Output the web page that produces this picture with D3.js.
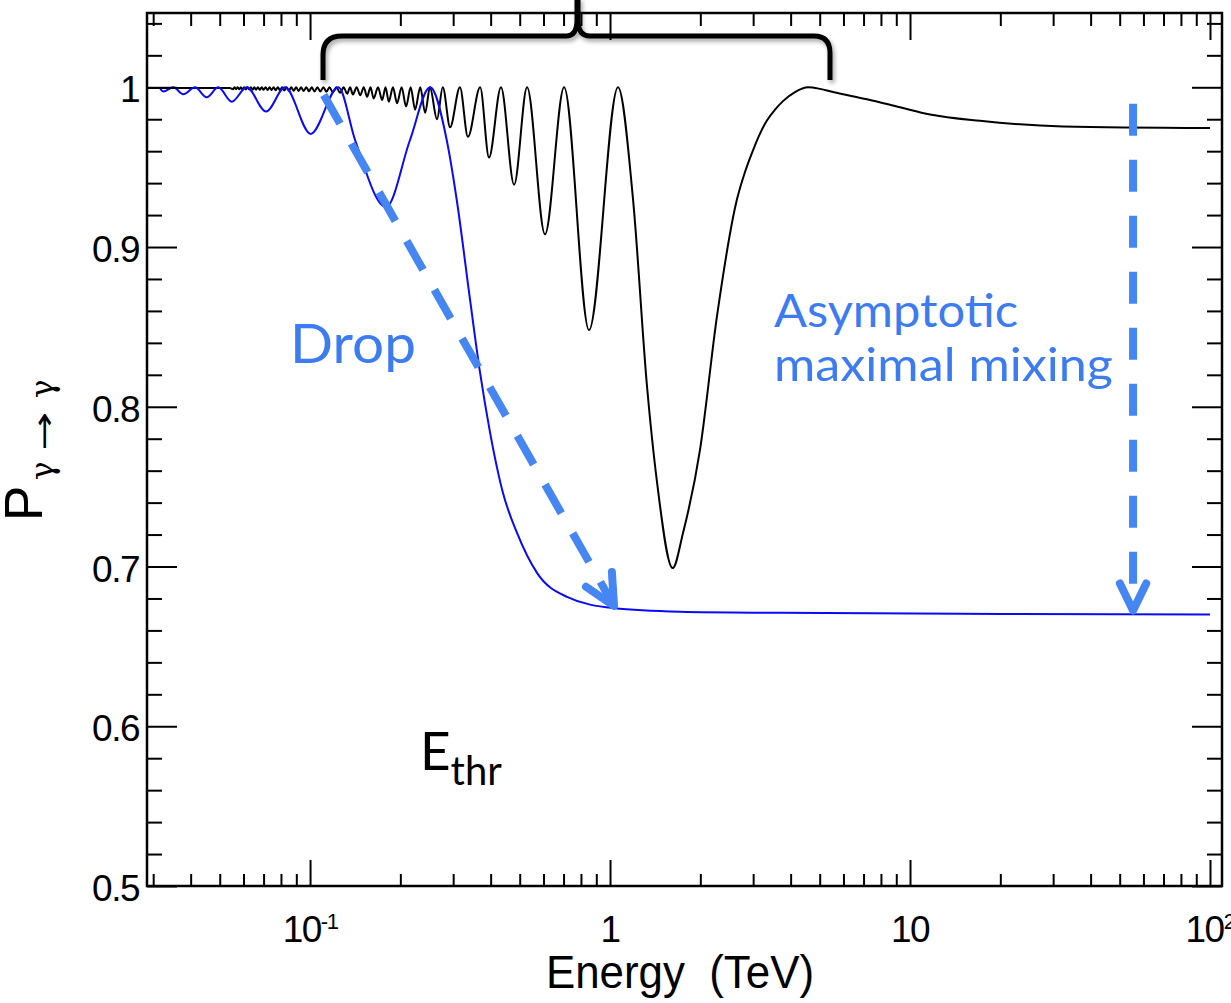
<!DOCTYPE html>
<html><head><meta charset="utf-8">
<script src="https://cdn.jsdelivr.net/npm/d3@7"></script>
<style>
html,body{margin:0;padding:0;background:#fff;}
svg{display:block;}
</style></head><body>
<svg id="chart" width="1231" height="1003"></svg>
<script>
// ---------------- data ----------------
const xMajorTicks = [0.1, 1, 10, 100];
const xMajorBase  = ["10", "1", "10", "10"];
const xMajorExp   = ["-1", "", "", "2"];
const xMinorTicks = [0.03,0.04,0.05,0.06,0.07,0.08,0.09,
                     0.2,0.3,0.4,0.5,0.6,0.7,0.8,0.9,
                     2,3,4,5,6,7,8,9,
                     20,30,40,50,60,70,80,90];
const yMajorTicks  = [0.5, 0.6, 0.7, 0.8, 0.9, 1.0];
const yMajorLabels = ["0.5", "0.6", "0.7", "0.8", "0.9", "1"];
const yMinorTicks  = [0.52,0.54,0.56,0.58,0.62,0.64,0.66,0.68,0.72,0.74,0.76,0.78,
                      0.82,0.84,0.86,0.88,0.92,0.94,0.96,0.98,1.02,1.04];

// black curve: flat start, oscillation minima (each followed by a maximum at P=1), then tail
const blackStartE = [0.0286, 0.0540];
const blackStartP = [0.9995, 0.9995];
const blackMinE = [0.0554,0.0567,0.0581,0.0595,0.0611,0.0627,0.0644,0.0661,0.0680,0.0700,
                   0.0722,0.0744,0.0768,0.0794,0.0821,0.0850,0.0882,0.0916,0.0952,0.0992,
                   0.1035,0.1082,0.1134,0.1190,0.1260,0.1330,0.1390,0.1470,0.1550,0.1630,
                   0.1740,0.1830,0.1950,0.2090,0.2240,0.2420,0.2650,0.2930,0.3360,0.3950,
                   0.4790,0.6070,0.8510];
const blackMinP = [0.9988,0.9988,0.9987,0.9987,0.9986,0.9986,0.9985,0.9985,0.9984,0.9984,
                   0.9983,0.9983,0.9982,0.9981,0.9980,0.9979,0.9978,0.9977,0.9976,0.9975,
                   0.9974,0.9973,0.9972,0.9970,0.9965,0.9960,0.9955,0.9950,0.9940,0.9930,
                   0.9920,0.9910,0.9900,0.9880,0.9860,0.9840,0.9800,0.9750,0.9690,0.9560,
                   0.9390,0.9080,0.8480];
const blackPeakE = [0.0560,0.0574,0.0588,0.0603,0.0619,0.0635,0.0652,0.0670,0.0690,0.0711,
                    0.0733,0.0756,0.0781,0.0807,0.0835,0.0866,0.0899,0.0934,0.0972,0.1013,
                    0.1058,0.1108,0.1161,0.1224,0.1294,0.1360,0.1430,0.1510,0.1590,0.1685,
                    0.1785,0.1890,0.2020,0.2165,0.2330,0.2510,0.2770,0.3160,0.3690,0.4330,
                    0.5290,0.7030,1.0630];
const blackPeakP = 1.0;
const blackTailE = [1.193,1.328,1.434,1.618,1.751,1.995,2.274,2.651,2.818,3.003,3.162,3.330,
                    3.548,3.780,4.137,4.571,5.012,5.538,7.19,9.26,11.66,17.11,32.36,100];
const blackTailP = [0.930,0.813,0.753,0.699,0.721,0.773,0.857,0.930,0.947,0.961,0.971,0.979,
                    0.986,0.9915,0.997,1.000,0.999,0.997,0.9925,0.9875,0.983,0.979,0.9755,0.9745];

// blue curve
const blueEnergy = [0.03162,0.03243,0.03501,0.03781,0.04136,0.04524,0.04945,0.05483,0.06152,
                    0.07135,0.08254,0.1005,0.1243,0.1413,0.1792,0.2154,0.2512,0.2855,0.3083,
                    0.3415,0.3690,0.3981,0.4398,0.4898,0.5710,0.7187,1.0233,1.7113,3.6869,19.95,100];
const blueProb   = [0.9994,0.9973,1.0,0.9956,1.0,0.9937,1.0,0.991,1.0,
                    0.9848,1.0,0.9708,1.0,0.967,0.925,0.967,1.0,0.967,0.9296,
                    0.867,0.821,0.784,0.746,0.721,0.696,0.681,0.674,0.6717,0.671,0.6703,0.670];

// annotation arrows (energy, probability)
const dropArrow = [[0.1111, 0.9952], [1.0312, 0.6753]];
const asymArrow = [[55.4, 0.9897], [55.4, 0.6725]];

// ---------------- layout ----------------
const svg = d3.select("#chart");
const L = 147, R = 1222, T = 13, B = 886;
const x = d3.scaleLog().domain([0.02861, 109.65]).range([L, R]);
const y = d3.scaleLinear().domain([0.5, 1.0465]).range([B, T]);

const defs = svg.append("defs");
defs.append("clipPath").attr("id", "clip").append("rect")
  .attr("x", L).attr("y", T).attr("width", R - L).attr("height", B - T);
const f = defs.append("filter").attr("id", "shadow").attr("x", "-10%").attr("y", "-50%").attr("width", "120%").attr("height", "200%");
f.append("feDropShadow").attr("dx", 2).attr("dy", 3).attr("stdDeviation", 2)
  .attr("flood-color", "#000").attr("flood-opacity", 0.35);

// ---------------- curves ----------------
const blackPts = [];
blackStartE.forEach((e, i) => blackPts.push([e, blackStartP[i]]));
blackMinE.forEach((e, i) => { blackPts.push([e, blackMinP[i]]); blackPts.push([blackPeakE[i], blackPeakP]); });
blackTailE.forEach((e, i) => blackPts.push([e, blackTailP[i]]));
const bluePts = blueEnergy.map((e, i) => [e, blueProb[i]]);

const line = d3.line().x(d => x(d[0])).y(d => y(d[1])).curve(d3.curveMonotoneX);
const plot = svg.append("g").attr("clip-path", "url(#clip)");
plot.append("path").datum(blackPts).attr("d", line)
  .attr("fill", "none").attr("stroke", "#000").attr("stroke-width", 2);
plot.append("path").datum(bluePts).attr("d", line)
  .attr("fill", "none").attr("stroke", "#0a0af5").attr("stroke-width", 2);

// ---------------- axes / frame ----------------
function styleAxis(g) {
  g.select(".domain").remove();
  g.selectAll(".tick line").attr("stroke", "#000").attr("stroke-width", 2);
}
svg.append("g").attr("transform", `translate(0,${B})`)
  .call(d3.axisTop(x).tickValues(xMajorTicks).tickSize(26).tickFormat("")).call(styleAxis);
svg.append("g").attr("transform", `translate(0,${B})`)
  .call(d3.axisTop(x).tickValues(xMinorTicks).tickSize(12).tickFormat("")).call(styleAxis);
svg.append("g").attr("transform", `translate(0,${T})`)
  .call(d3.axisBottom(x).tickValues(xMajorTicks).tickSize(27).tickFormat("")).call(styleAxis);
svg.append("g").attr("transform", `translate(0,${T})`)
  .call(d3.axisBottom(x).tickValues(xMinorTicks).tickSize(13).tickFormat("")).call(styleAxis);
svg.append("g").attr("transform", `translate(${L},0)`)
  .call(d3.axisRight(y).tickValues(yMajorTicks).tickSize(30).tickFormat("")).call(styleAxis);
svg.append("g").attr("transform", `translate(${L},0)`)
  .call(d3.axisRight(y).tickValues(yMinorTicks).tickSize(15).tickFormat("")).call(styleAxis);
svg.append("g").attr("transform", `translate(${R},0)`)
  .call(d3.axisLeft(y).tickValues(yMajorTicks).tickSize(30).tickFormat("")).call(styleAxis);
svg.append("g").attr("transform", `translate(${R},0)`)
  .call(d3.axisLeft(y).tickValues(yMinorTicks).tickSize(15).tickFormat("")).call(styleAxis);

svg.append("rect").attr("x", L).attr("y", T).attr("width", R - L).attr("height", B - T)
  .attr("fill", "none").attr("stroke", "#000").attr("stroke-width", 2.5);

// tick labels
const tickFont = "'Liberation Sans', Arial, Helvetica, sans-serif";
svg.append("g").selectAll("text").data(yMajorTicks).join("text")
  .attr("x", 139).attr("y", d => y(d) + 15)
  .attr("text-anchor", "end").attr("font-family", tickFont).attr("font-size", 37)
  .attr("letter-spacing", -1.5)
  .text((d, i) => yMajorLabels[i]);

const xl = svg.append("g").selectAll("text").data(xMajorTicks).join("text")
  .attr("x", d => x(d)).attr("y", 942)
  .attr("text-anchor", "middle").attr("font-family", tickFont).attr("font-size", 37)
  .attr("letter-spacing", -1.5);
xl.append("tspan").text((d, i) => xMajorBase[i]);
xl.filter((d, i) => xMajorExp[i] !== "").append("tspan")
  .attr("dy", -13).attr("font-size", 22)
  .text(d => xMajorExp[xMajorTicks.indexOf(d)]);

// axis titles
svg.append("text").attr("x", 546).attr("y", 988)
  .attr("font-family", tickFont).attr("font-size", 46)
  .attr("textLength", 268).attr("lengthAdjust", "spacingAndGlyphs")
  .style("white-space", "pre").text("Energy  (TeV)");

svg.append("text").attr("transform", "translate(42,521) rotate(-90)")
  .attr("font-family", tickFont).attr("font-size", 53).text("P");
const sub = svg.append("g").attr("transform", "translate(53,480) rotate(-90)");
sub.append("text").attr("x", 0).attr("font-family", "'DejaVu Serif', serif").attr("font-size", 31).text("γ");
sub.append("text").attr("x", 29).attr("y", 1).attr("font-family", "'DejaVu Sans', sans-serif").attr("font-size", 30)
  .attr("textLength", 39).attr("lengthAdjust", "spacingAndGlyphs").text("→");
sub.append("text").attr("x", 82).attr("font-family", "'DejaVu Serif', serif").attr("font-size", 31).text("γ");

// ---------------- annotations ----------------
const annBlue = "#4586f3";
function drawArrow(pts, len, ang, dash) {
  const p0 = [x(pts[0][0]), y(pts[0][1])], p1 = [x(pts[1][0]), y(pts[1][1])];
  svg.append("path").attr("d", d3.line()([p0, p1]))
    .attr("fill", "none").attr("stroke", annBlue).attr("stroke-width", 8)
    .attr("stroke-dasharray", dash).attr("stroke-linecap", "butt");
  const a = Math.atan2(p0[1] - p1[1], p0[0] - p1[0]);
  const head = [[p1[0] + len * Math.cos(a + ang), p1[1] + len * Math.sin(a + ang)], p1,
                [p1[0] + len * Math.cos(a - ang), p1[1] + len * Math.sin(a - ang)]];
  svg.append("path").attr("d", d3.line()(head))
    .attr("fill", "none").attr("stroke", annBlue).attr("stroke-width", 8)
    .attr("stroke-linecap", "round").attr("stroke-linejoin", "round");
}
drawArrow(dropArrow, 34, 26 * Math.PI / 180, "33,23");
drawArrow(asymArrow, 30, 26 * Math.PI / 180, "32,24");

// brace
const braceG = svg.append("g").attr("filter", "url(#shadow)")
  .attr("fill", "none").attr("stroke", "#000").attr("stroke-width", 5).attr("stroke-linecap", "butt");
braceG.append("path").attr("d", "M323,80 L323,55 Q323,36 342,36 L566,36 Q577,36 577,20 L577,-2");
braceG.append("path").attr("d", "M578,-2 L578,20 Q578,36 590,36 L814,36 Q830,36 830,53 L830,80");

const annFont = "Lato, 'Open Sans', sans-serif";
const annText = "#3d7cf0";
svg.append("text").attr("x", 290).attr("y", 363).attr("font-family", annFont).attr("font-size", 55)
  .attr("textLength", 126).attr("lengthAdjust", "spacingAndGlyphs")
  .attr("fill", annText).text("Drop");
svg.append("text").attr("x", 774).attr("y", 327).attr("font-family", annFont).attr("font-size", 46)
  .attr("textLength", 244).attr("lengthAdjust", "spacingAndGlyphs")
  .attr("fill", annText).text("Asymptotic");
svg.append("text").attr("x", 774).attr("y", 381).attr("font-family", annFont).attr("font-size", 46)
  .attr("textLength", 339).attr("lengthAdjust", "spacingAndGlyphs")
  .attr("fill", annText).text("maximal mixing");
const et = svg.append("text").attr("x", 420).attr("y", 770).attr("font-family", annFont).attr("font-size", 53).attr("fill", "#000");
et.append("tspan").text("E");
et.append("tspan").attr("dy", 15).attr("font-size", 40).text("thr");
</script>
</body></html>
